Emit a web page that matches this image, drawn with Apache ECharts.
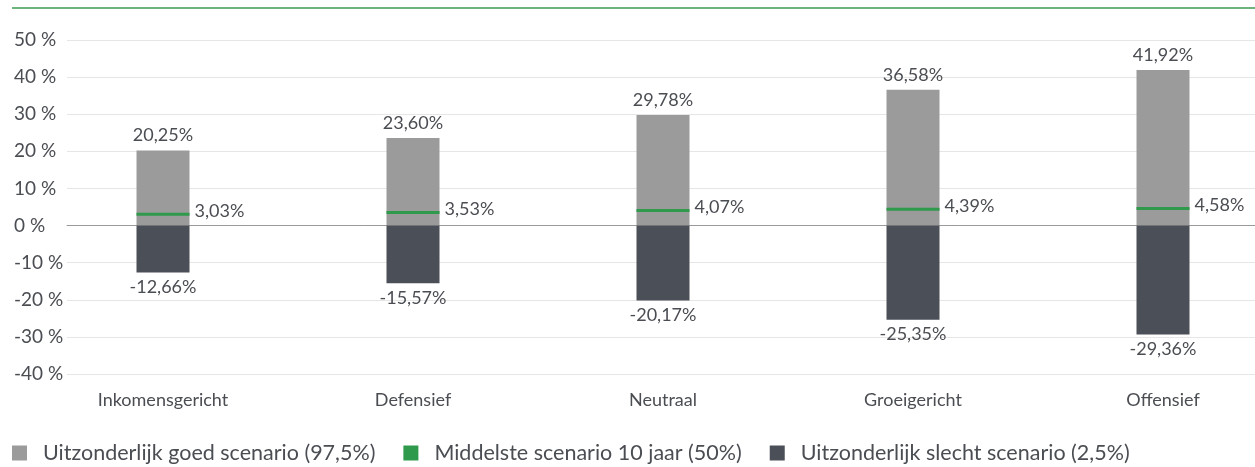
<!DOCTYPE html>
<html>
<head>
<meta charset="utf-8">
<title>Scenario's</title>
<script src="https://cdn.jsdelivr.net/npm/echarts@6/dist/echarts.min.js"></script>
<style>
    html, body {margin: 0; padding: 0; background: #fff;}
    #chart {width: 1255px; height: 467px;}
</style>
</head>
<body>
<div id="chart"></div>
<script>
// data uit de grafiek
var categories = ['Inkomensgericht', 'Defensief', 'Neutraal', 'Groeigericht', 'Offensief'];
var goodValues = [20.25, 23.60, 29.78, 36.58, 41.92];
var midValues = [3.03, 3.53, 4.07, 4.39, 4.58];
var badValues = [-12.66, -15.57, -20.17, -25.35, -29.36];
var seriesNames = [
    'Uitzonderlijk goed scenario (97,5%)',
    'Middelste scenario 10 jaar (50%)',
    'Uitzonderlijk slecht scenario (2,5%)'
];
var yTicks = [-40, -30, -20, -10, 0, 10, 20, 30, 40, 50];

var colors = {
    good: '#9a9b9a',
    mid: '#2f9a4c',
    bad: '#4b4f57',
    text: '#4a4d52'
};

var fmtPct = function(v){
    return v.toFixed(2).replace('.', ',') + '%';
};

var chart = echarts.init(document.getElementById('chart'));

var labelStyle = {
    show: true,
    color: colors.text,
    fontSize: 18,
    fontFamily: 'Lato',
    formatter: function(p){
        return fmtPct(p.value);
    }
};

var option = {
    animation: false,
    textStyle: {fontFamily: 'Lato'},
    graphic: [{
        type: 'line',
        shape: {x1: 12, y1: 8, x2: 1255, y2: 8},
        style: {stroke: '#3a9b4f', lineWidth: 1.5}
    }],
    legend: {
        left: 7,
        top: 437,
        icon: 'rect',
        itemWidth: 15,
        itemHeight: 15,
        itemGap: 28,
        textStyle: {color: colors.text, fontSize: 21.5, fontFamily: 'Lato', padding: [0, 0, 0, 11]},
        data: seriesNames
    },
    grid: [
        {left: 67, right: 0, top: 40, bottom: 93},
        // bars-grid: 250px per categorie, loopt rechts buiten beeld
        {left: 38, width: 1250, top: 40, bottom: 93, outerBoundsMode: 'none'}
    ],
    xAxis: [{
        // alleen voor de nullijn
        type: 'value',
        gridIndex: 0,
        min: 0,
        max: 1,
        axisLabel: {show: false},
        axisTick: {show: false},
        splitLine: {show: false},
        axisLine: {show: true, onZero: true, lineStyle: {color: '#9a9a9a', width: 1}}
    }, {
        type: 'category',
        gridIndex: 1,
        data: categories,
        axisLine: {show: false},
        axisTick: {show: false},
        axisLabel: {color: colors.text, fontSize: 18, fontFamily: 'Lato', margin: 17}
    }],
    yAxis: [{
        type: 'value',
        gridIndex: 0,
        min: yTicks[0],
        max: yTicks[yTicks.length - 1],
        interval: 10,
        axisLine: {show: false},
        axisTick: {show: false},
        axisLabel: {
            color: colors.text,
            fontSize: 19,
            fontFamily: 'Lato',
            align: 'left',
            margin: 53,
            formatter: function(v){ return v + ' %'; }
        },
        splitLine: {lineStyle: {color: '#e6e6e6', width: 1}}
    }, {
        type: 'value',
        gridIndex: 1,
        min: yTicks[0],
        max: yTicks[yTicks.length - 1],
        interval: 10,
        show: false
    }],
    series: [{
        name: seriesNames[0],
        type: 'bar',
        xAxisIndex: 1,
        yAxisIndex: 1,
        barWidth: 53,
        barGap: '-100%',
        itemStyle: {color: colors.good},
        label: Object.assign({position: 'top', distance: 6}, labelStyle),
        data: goodValues
    }, {
        name: seriesNames[2],
        type: 'bar',
        xAxisIndex: 1,
        yAxisIndex: 1,
        barWidth: 53,
        barGap: '-100%',
        itemStyle: {color: colors.bad},
        label: Object.assign({position: 'bottom', distance: 6}, labelStyle),
        data: badValues
    }, {
        name: seriesNames[1],
        type: 'scatter',
        xAxisIndex: 1,
        yAxisIndex: 1,
        symbol: 'rect',
        symbolSize: [53, 3],
        z: 5,
        itemStyle: {color: colors.mid, opacity: 1},
        label: Object.assign({position: 'right', distance: 5, offset: [0, -3]}, labelStyle),
        data: midValues
    }]
};

chart.setOption(option);
</script>
</body>
</html>
